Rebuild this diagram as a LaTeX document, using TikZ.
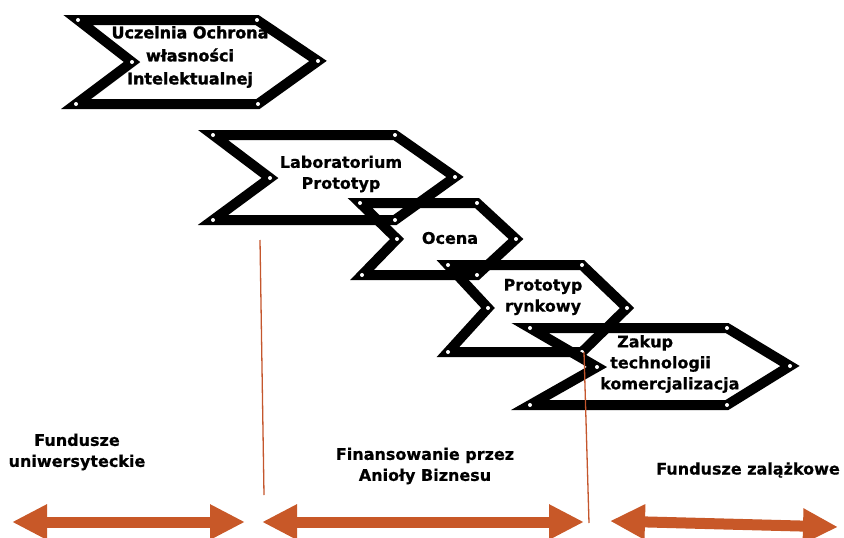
\documentclass[tikz,border=0pt]{standalone}
\usepackage{fontspec}
\setmainfont{DejaVu Sans}[BoldFeatures={FakeBold=0.6}]
\newfontfamily\heavyfont{DejaVu Sans}[BoldFeatures={FakeBold=1.8}]
\usetikzlibrary{arrows.meta}
\definecolor{band}{RGB}{200,88,40}
\definecolor{divider}{RGB}{196,86,44}
\tikzset{
  chev/.style={draw=black, line width=10pt, line join=miter},
  lbl/.style={font=\bfseries\fontsize{16}{21}\selectfont, align=center, inner sep=0pt},
  span/.style={draw=band, line width=11pt,
    {Triangle[length=35pt,width=33pt]}-{Triangle[length=35pt,width=33pt]}},
  divline/.style={draw=divider, line width=1.3pt}
}
% chevron outline: name, top-left, top-right, tip, bottom-right, bottom-left, notch
\newcommand\chevron[7]{%
  \coordinate (#1-a) at (#2);
  \coordinate (#1-b) at (#3);
  \coordinate (#1-c) at (#4);
  \coordinate (#1-d) at (#5);
  \coordinate (#1-e) at (#6);
  \coordinate (#1-f) at (#7);
  \draw[chev] (#1-a) -- (#1-b) -- (#1-c) -- (#1-d) -- (#1-e) -- (#1-f) -- cycle;
  \foreach \v in {a,b,c,d,e,f} \fill[white] (#1-\v) circle (2pt);
}
\begin{document}
\begin{tikzpicture}[x=1pt,y=-1pt]
\useasboundingbox (0,0) rectangle (844,538);

% process chevrons
\chevron{c1}{78,20}{257,20}{318,61}{258,104}{76,104}{132,62}
\chevron{c2}{213,135}{395,135}{455,177}{395,220}{213,220}{270,178}
\chevron{c3}{360,203}{477,203}{516,239}{477,275}{362,275}{397,239}
\chevron{c4}{448,265}{582,265}{627,308}{582,352}{448,352}{488,308}
\chevron{c5}{530,328}{727,328}{790,366}{727,405}{530,405}{597,367}

\node[lbl, font=\heavyfont\bfseries\fontsize{16}{23}\selectfont] (t1) at (190,57)
  {Uczelnia Ochrona\\własności\\Intelektualnej};
\node[lbl] (t2) at (341,174) {Laboratorium\\Prototyp};
\node[lbl] (t3) at (450,238) {Ocena};
\node[lbl] (t4) at (543,297) {Prototyp\\rynkowy};
\node[lbl, align=left, anchor=west] (t5) at (600,364)
  {\hspace*{17pt}Zakup\\\hspace*{10pt}technologii\\komercjalizacja};

% phase dividers
\coordinate (d1a) at (260,240);
\coordinate (d1b) at (264,495);
\coordinate (d2a) at (584,352);
\coordinate (d2b) at (589,523);
\draw[divline] (d1a) -- (d1b);
\draw[divline] (d2a) -- (d2b);

% funding spans
\coordinate (s1a) at (12,522);
\coordinate (s1b) at (245,522);
\coordinate (s2a) at (262,522);
\coordinate (s2b) at (584,522);
\coordinate (s3a) at (610,521);
\coordinate (s3b) at (838,527);
\draw[span] (s1a) -- (s1b);
\draw[span] (s2a) -- (s2b);
\draw[span] (s3a) -- (s3b);

\node[lbl] (f1) at (77,452) {Fundusze\\uniwersyteckie};
\node[lbl] (f2) at (425,466) {Finansowanie przez\\Anioły Biznesu};
\node[lbl] (f3) at (748,470) {Fundusze zalążkowe};
\end{tikzpicture}
\end{document}
